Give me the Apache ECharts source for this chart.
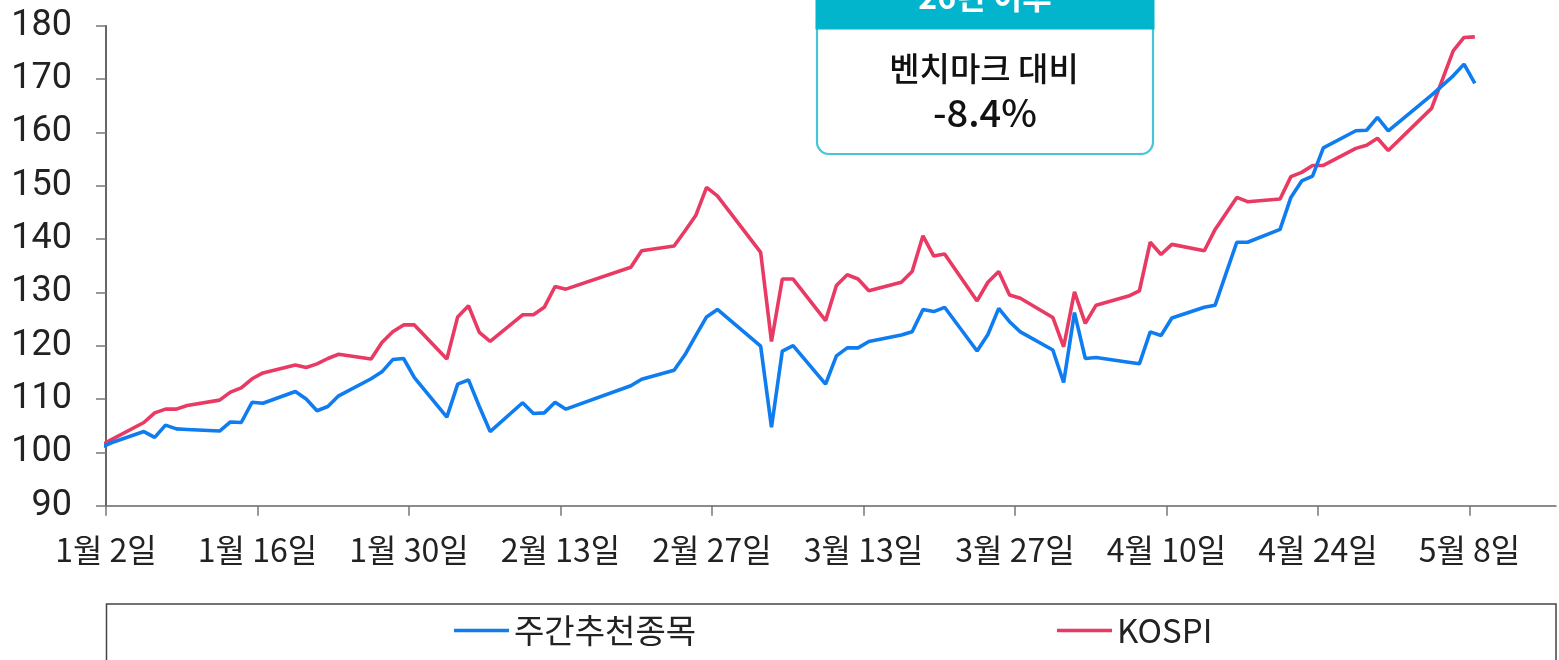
<!DOCTYPE html>
<html>
<head>
<meta charset="utf-8">
<script src="https://cdn.jsdelivr.net/npm/echarts@6/dist/echarts.min.js"></script>
<style>
  html, body { margin: 0; padding: 0; background: #fff; }
  #main { width: 1559px; height: 660px; }
</style>
</head>
<body>
<div id="main"></div>
<script>
// 거래일 (첫 값은 기준일 100)
const dates = [
  '2025-12-31', '2026-01-02', '2026-01-05', '2026-01-06', '2026-01-07', '2026-01-08', '2026-01-09',
  '2026-01-12', '2026-01-13', '2026-01-14', '2026-01-15', '2026-01-16', '2026-01-19', '2026-01-20',
  '2026-01-21', '2026-01-22', '2026-01-23', '2026-01-26', '2026-01-27', '2026-01-28', '2026-01-29',
  '2026-01-30', '2026-02-02', '2026-02-03', '2026-02-04', '2026-02-05', '2026-02-06', '2026-02-09',
  '2026-02-10', '2026-02-11', '2026-02-12', '2026-02-13', '2026-02-19', '2026-02-20', '2026-02-23',
  '2026-02-24', '2026-02-25', '2026-02-26', '2026-02-27', '2026-03-03', '2026-03-04', '2026-03-05',
  '2026-03-06', '2026-03-09', '2026-03-10', '2026-03-11', '2026-03-12', '2026-03-13', '2026-03-16',
  '2026-03-17', '2026-03-18', '2026-03-19', '2026-03-20', '2026-03-23', '2026-03-24', '2026-03-25',
  '2026-03-26', '2026-03-27', '2026-03-30', '2026-03-31', '2026-04-01', '2026-04-02', '2026-04-03',
  '2026-04-06', '2026-04-07', '2026-04-08', '2026-04-09', '2026-04-10', '2026-04-13', '2026-04-14',
  '2026-04-15', '2026-04-16', '2026-04-17', '2026-04-20', '2026-04-21', '2026-04-22', '2026-04-23',
  '2026-04-24', '2026-04-27', '2026-04-28', '2026-04-29', '2026-04-30', '2026-05-04', '2026-05-06',
  '2026-05-07', '2026-05-08'
];

// 주간추천종목
const stockValues = [
  100, 101.8, 103.9, 102.8, 105.1, 104.4, 104.3,
  104.0, 105.7, 105.6, 109.4, 109.2, 111.4, 110.0,
  107.8, 108.6, 110.6, 113.8, 115.1, 117.4, 117.6,
  114.0, 106.6, 112.8, 113.6, 108.6, 103.9, 109.3,
  107.3, 107.4, 109.4, 108.1, 112.5, 113.7, 115.4,
  118.3, 121.9, 125.4, 126.8, 119.9, 104.7, 119.0,
  120.0, 112.8, 118.1, 119.6, 119.6, 120.8, 122.0,
  122.6, 126.8, 126.4, 127.2, 119.0, 122.1, 127.0,
  124.5, 122.6, 119.2, 113.1, 126.2, 117.6, 117.8,
  116.9, 116.6, 122.6, 121.9, 125.2, 127.2, 127.6,
  133.5, 139.4, 139.4, 141.8, 147.8, 150.9, 151.8,
  157.1, 160.3, 160.4, 162.8, 160.3, 167.0, 170.6,
  172.8, 169.2
];

// KOSPI
const kospiValues = [
  100, 102.4, 105.6, 107.4, 108.1, 108.1, 108.8,
  109.8, 111.3, 112.1, 113.8, 114.9, 116.4, 115.9,
  116.6, 117.6, 118.4, 117.5, 120.6, 122.6, 123.9,
  123.9, 117.5, 125.4, 127.5, 122.5, 120.8, 125.8,
  125.8, 127.2, 131.1, 130.6, 134.7, 137.8, 138.7,
  141.5, 144.4, 149.7, 148.1, 137.5, 120.8, 132.5,
  132.5, 124.7, 131.3, 133.3, 132.5, 130.3, 131.9,
  133.9, 140.6, 136.8, 137.2, 128.4, 131.9, 133.9,
  129.5, 128.9, 125.3, 119.8, 130.1, 124.2, 127.6,
  129.3, 130.3, 139.4, 137.1, 139.0, 137.8, 141.8,
  144.8, 147.8, 147.0, 147.5, 151.7, 152.5, 153.8,
  153.8, 157.0, 157.6, 158.9, 156.6, 164.5, 175.3,
  177.8, 177.9
];

const tickDates = [
  '2026-01-02', '2026-01-16', '2026-01-30', '2026-02-13', '2026-02-27',
  '2026-03-13', '2026-03-27', '2026-04-10', '2026-04-24', '2026-05-08'
];

const seriesNames = ['주간추천종목', 'KOSPI'];

const startDate = '2026-01-02';
const endDate = '2026-05-16';

function toUTC(s) {
  const p = s.split('-').map(Number);
  return Date.UTC(p[0], p[1] - 1, p[2]);
}
const base = toUTC(startDate);
function dayOf(s) {
  return Math.round((toUTC(s) - base) / 86400000);
}
function dayLabel(v) {
  const d = new Date(base + Math.round(v) * 86400000);
  return (d.getUTCMonth() + 1) + '월 ' + d.getUTCDate() + '일';
}

// 날짜 축: 점은 하루 칸의 가운데
const toPoints = (vals) => dates.map((s, i) => [dayOf(s) + 0.5, vals[i]]);
const tickDays = tickDates.map(dayOf);

const korFont = '"Noto Sans CJK KR", "Noto Sans", sans-serif';

var myChart = echarts.init(document.getElementById('main'));
myChart.setOption({
  animation: false,
  grid: {
    left: 106,
    right: 3,
    top: 25.7,
    bottom: 154.3
  },
  xAxis: {
    type: 'value',
    min: 0,
    max: dayOf(endDate),
    axisLine: { lineStyle: { color: '#666', width: 1.5 } },
    axisTick: {
      customValues: tickDays,
      length: 10,
      lineStyle: { color: '#777', width: 1.5 }
    },
    axisLabel: {
      customValues: tickDays,
      formatter: dayLabel,
      fontSize: 32,
      fontFamily: korFont,
      color: '#222',
      margin: 28
    },
    splitLine: { show: false }
  },
  yAxis: {
    type: 'value',
    min: 90,
    max: 180,
    interval: 10,
    axisLine: { show: true, lineStyle: { color: '#333', width: 1.5 } },
    axisTick: { show: true, length: 10, lineStyle: { color: '#777', width: 1.5 } },
    axisLabel: {
      fontSize: 36,
      fontFamily: 'Roboto, "Noto Sans", sans-serif',
      color: '#222',
      margin: 34
    },
    splitLine: { show: false }
  },
  legend: [
    {
      data: [seriesNames[0]],
      left: 454,
      top: 614,
      padding: 0,
      icon: 'rect',
      itemWidth: 55,
      itemHeight: 3.5,
      textStyle: { fontSize: 33, fontFamily: korFont, color: '#222' }
    },
    {
      data: [seriesNames[1]],
      left: 1057,
      top: 614,
      padding: 0,
      icon: 'rect',
      itemWidth: 55,
      itemHeight: 3.5,
      textStyle: { fontSize: 33, fontFamily: korFont, color: '#222' }
    }
  ],
  series: [
    {
      name: seriesNames[0],
      type: 'line',
      symbol: 'none',
      color: '#0F7CF0',
      lineStyle: { width: 3.6, color: '#0F7CF0' },
      data: toPoints(stockValues),
      z: 3
    },
    {
      name: seriesNames[1],
      type: 'line',
      symbol: 'none',
      color: '#E83A62',
      lineStyle: { width: 3.6, color: '#E83A62' },
      data: toPoints(kospiValues),
      z: 2
    }
  ],
  graphic: [
    // 범례 박스
    {
      type: 'rect',
      shape: { x: 106.5, y: 604, width: 1449.5, height: 100 },
      style: { fill: 'none', stroke: '#444', lineWidth: 1.5 },
      silent: true
    },
    // 주석 박스
    {
      type: 'rect',
      shape: { x: 817, y: 20, width: 336, height: 134, r: [0, 0, 12, 12] },
      style: { fill: '#fff', stroke: '#45C6D7', lineWidth: 2.2 },
      z: 10
    },
    {
      type: 'rect',
      shape: { x: 815.5, y: -40, width: 339, height: 69.5 },
      style: { fill: '#02B4CC' },
      z: 11
    },
    {
      type: 'text',
      x: 985,
      y: -3,
      style: {
        text: '26년 이후',
        fill: '#fff',
        font: 'bold 32px "Noto Sans CJK KR", sans-serif',
        textAlign: 'center',
        textVerticalAlign: 'middle'
      },
      z: 12
    },
    {
      type: 'text',
      x: 984,
      y: 68,
      style: {
        text: '벤치마크 대비',
        fill: '#111',
        font: '500 33px "Noto Sans CJK KR", sans-serif',
        textAlign: 'center',
        textVerticalAlign: 'middle'
      },
      z: 12
    },
    {
      type: 'text',
      x: 985,
      y: 113,
      style: {
        text: '-8.4%',
        fill: '#111',
        font: '500 38px "Noto Sans CJK KR", sans-serif',
        textAlign: 'center',
        textVerticalAlign: 'middle'
      },
      z: 12
    }
  ]
});
</script>
</body>
</html>
